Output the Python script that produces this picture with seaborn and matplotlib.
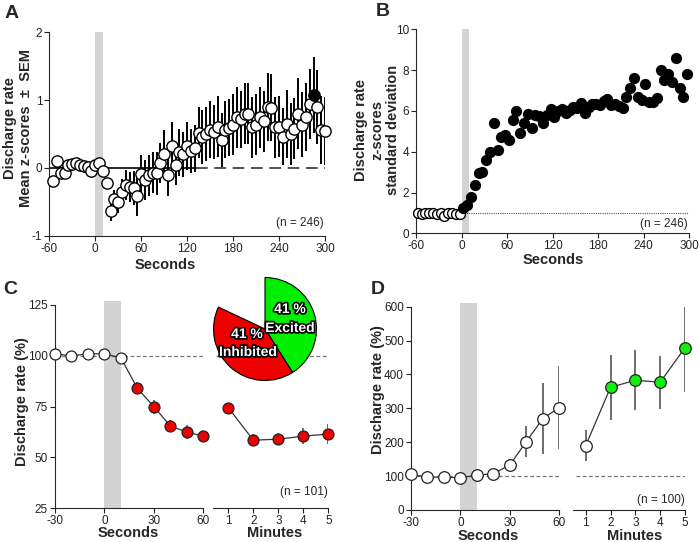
import numpy as np
import pandas as pd
import matplotlib
matplotlib.use("Agg")
import matplotlib.pyplot as plt
import matplotlib.patheffects as pe
import seaborn as sns

# ---- data ----
# A: mean z-score +- SEM, 5 s bins
a_sec = list(range(-55, 305, 5))
a_mean = [-0.19, 0.10, -0.08, -0.07, 0.04, 0.06, 0.07, 0.04, 0.03, 0.01, -0.04, 0.05,
          0.07, -0.05, -0.23, -0.63, -0.46, -0.50, -0.36, -0.25, -0.28, -0.29, -0.41, -0.09,
          -0.18, -0.11, -0.07, -0.08, 0.07, 0.21, -0.11, 0.32, 0.05, 0.23, 0.20, 0.32,
          0.25, 0.29, 0.52, 0.46, 0.50, 0.56, 0.53, 0.61, 0.41, 0.56, 0.59, 0.64,
          0.75, 0.72, 0.80, 0.80, 0.60, 0.64, 0.75, 0.69, 0.90, 0.89, 0.60, 0.61,
          0.46, 0.65, 0.50, 0.58, 0.80, 0.64, 0.75, 0.94, 1.07, 0.90, 0.56, 0.54]
a_sem = [0.04, 0.04, 0.04, 0.04, 0.04, 0.04, 0.04, 0.04, 0.04, 0.04, 0.04, 0.04,
         0.05, 0.06, 0.08, 0.15, 0.14, 0.17, 0.20, 0.22, 0.22, 0.25, 0.30, 0.28,
         0.30, 0.30, 0.30, 0.32, 0.30, 0.35, 0.30, 0.35, 0.30, 0.35, 0.33, 0.35,
         0.33, 0.35, 0.38, 0.40, 0.40, 0.42, 0.40, 0.45, 0.40, 0.42, 0.42, 0.45,
         0.45, 0.42, 0.45, 0.45, 0.45, 0.45, 0.45, 0.45, 0.50, 0.50, 0.45, 0.45,
         0.42, 0.50, 0.45, 0.45, 0.52, 0.48, 0.50, 0.52, 0.56, 0.55, 0.50, 0.50]
a_sig = [285]

# B: standard deviation of z-scores
b_sec = [x - 2.5 for x in range(-55, 305, 5)]
b_sd = [1.00, 0.97, 1.00, 0.98, 1.00, 0.95, 1.00, 0.85, 1.00, 0.98, 0.97, 0.95,
        1.23, 1.40, 1.76, 2.37, 2.94, 3.02, 3.60, 4.00, 5.39, 4.08, 4.74, 4.82,
        4.58, 5.56, 6.00, 4.93, 5.39, 5.83, 5.15, 5.78, 5.75, 5.42, 5.80, 6.10,
        5.72, 6.00, 6.11, 5.92, 6.05, 6.18, 6.13, 6.37, 5.92, 6.18, 6.34, 6.34,
        6.27, 6.50, 6.57, 6.27, 6.34, 6.26, 6.13, 6.70, 7.10, 7.63, 6.70, 6.54,
        7.30, 6.45, 6.45, 6.65, 8.00, 7.52, 7.81, 7.43, 8.58, 7.10, 6.70, 7.81]

# C: inhibited cells, % of baseline
c_sec = [-30, -20, -10, 0, 10, 20, 30, 40, 50, 60]
c_sec_val = [101, 100, 101, 101, 99, 84, 75, 65.5, 62.5, 60.5]
c_sec_err = [1.5, 1.5, 1.5, 1.5, 1.5, 3, 3.5, 3, 3.5, 3]
c_min = [1, 2, 3, 4, 5]
c_min_val = [74.5, 58.5, 59, 60.5, 61.5]
c_min_err = [2, 3, 3, 4, 5]
c_sig_sec = [20, 30, 40, 50, 60]
c_sig_min = [1, 2, 3, 4, 5]

# pie inset
pie_labels = ["Excited", "Inhibited", ""]
pie_pct = [41, 41, 18]
pie_colors = ["#00ee00", "#ee0000", "none"]

# D: excited cells, % of baseline
d_sec = [-30, -20, -10, 0, 10, 20, 30, 40, 50, 60]
d_sec_val = [105, 97, 97, 95, 103, 107, 133, 202, 270, 302]
d_sec_err = [5, 5, 5, 5, 6, 8, 12, 45, 105, 122]
d_min = [1, 2, 3, 4, 5]
d_min_val = [190, 362, 383, 377, 479]
d_min_err = [45, 95, 89, 78, 130]
d_sig_min = [2, 3, 4, 5]

sns.set_style("ticks")
plt.rcParams["font.family"] = ["Liberation Sans", "DejaVu Sans"]
plt.rcParams["axes.unicode_minus"] = False
plt.rcParams["axes.linewidth"] = 0.8
plt.rcParams["xtick.major.width"] = 0.8
plt.rcParams["ytick.major.width"] = 0.8
plt.rcParams["xtick.major.size"] = 3.5
plt.rcParams["ytick.major.size"] = 3.5
plt.rcParams["xtick.color"] = "#222222"
plt.rcParams["ytick.color"] = "#222222"

W, H = 700, 542
fig = plt.figure(figsize=(7, 5.42), dpi=100)


def box(x0, x1, ytop, ybot):
    return [x0 / W, 1 - ybot / H, (x1 - x0) / W, (ybot - ytop) / H]


def ftext(x, y, s, **kw):
    fig.text(x / W, 1 - y / H, s, ha="center", va="center", **kw)


TICK = 8.5
LAB = 10.5


def style(ax):
    sns.despine(ax=ax)
    ax.tick_params(labelsize=TICK, pad=1.5)


# ---- A ----
axA = fig.add_axes(box(49.3, 325, 32.3, 235.7))
axA.axvspan(0, 10, color="#d3d3d3", lw=0, zorder=0)
axA.plot([-60, 132], [0, 0], color="black", lw=1.2, zorder=1)
axA.plot([132, 300], [0, 0], color="#333333", lw=1.2, ls=(0, (7, 4)), zorder=1)
axA.errorbar(a_sec, a_mean, yerr=a_sem, fmt="none", ecolor="black", elinewidth=1.4, zorder=2)
dfa = pd.DataFrame({"sec": a_sec, "z": a_mean})
dfa["sig"] = dfa["sec"].isin(a_sig)
sns.scatterplot(data=dfa[~dfa.sig], x="sec", y="z", ax=axA, color="white", edgecolor="black",
                s=66, linewidth=1, zorder=3, clip_on=False)
sns.scatterplot(data=dfa[dfa.sig], x="sec", y="z", ax=axA, color="black", edgecolor="black",
                s=66, linewidth=1, zorder=4, clip_on=False)
axA.set_xlim(-60, 300)
axA.set_ylim(-1, 2)
axA.set_xticks([-60, 0, 60, 120, 180, 240, 300])
axA.set_yticks([-1, 0, 1, 2])
axA.set_xlabel("")
axA.set_ylabel("")
style(axA)
axA.text(299, -0.81, "(n = 246)", fontsize=TICK, ha="right", va="center")

# ---- B ----
axB = fig.add_axes(box(416, 689, 29.3, 233.3))
axB.axvspan(0, 10, color="#d3d3d3", lw=0, zorder=0)
axB.plot([0, 300], [1, 1], color="#555555", lw=0.8, ls=(0, (1, 1)), zorder=1)
dfb = pd.DataFrame({"sec": b_sec, "sd": b_sd})
sns.scatterplot(data=dfb[dfb.sec < 0], x="sec", y="sd", ax=axB, color="white", edgecolor="black",
                s=50, linewidth=1, zorder=3, clip_on=False)
sns.scatterplot(data=dfb[dfb.sec > 0], x="sec", y="sd", ax=axB, color="black", edgecolor="black",
                s=50, linewidth=1, zorder=3, clip_on=False)
axB.set_xlim(-60, 300)
axB.set_ylim(0, 10)
axB.set_xticks([-60, 0, 60, 120, 180, 240, 300])
axB.set_yticks([0, 2, 4, 6, 8, 10])
axB.set_xlabel("")
axB.set_ylabel("")
style(axB)
axB.text(299, 0.45, "(n = 246)", fontsize=TICK, ha="right", va="center")


def two_part(left_box, right_box, right_xlim, xsec, ysec, esec, sig_sec, xmin, ymin, emin, sig_min,
             colour, ylim, yticks, n_text, n_y, msize):
    axl = fig.add_axes(left_box)
    axr = fig.add_axes(right_box, sharey=axl)
    axl.axvspan(0, 10, ymax=1.02, color="#d3d3d3", lw=0, zorder=0, clip_on=False)
    axl.plot([-30, 60], [100, 100], color="#777777", lw=0.9, ls=(0, (3, 2)), zorder=1)
    axr.plot([right_xlim[0] + 0.1, 5], [100, 100], color="#777777", lw=0.9, ls=(0, (3, 2)), zorder=1)
    for ax, xs, ys, es, sig in [(axl, xsec, ysec, esec, sig_sec), (axr, xmin, ymin, emin, sig_min)]:
        ax.errorbar(xs, ys, yerr=es, fmt="none", ecolor="#555555", elinewidth=1.2, zorder=2)
        df = pd.DataFrame({"x": xs, "y": ys})
        df["sig"] = df["x"].isin(sig)
        sns.lineplot(data=df, x="x", y="y", ax=ax, color="#333333", lw=0.9, zorder=2)
        sns.scatterplot(data=df[~df.sig], x="x", y="y", ax=ax, color="white", edgecolor="#222222",
                        s=msize, linewidth=0.9, zorder=3, clip_on=False)
        sns.scatterplot(data=df[df.sig], x="x", y="y", ax=ax, color=colour, edgecolor="#222222",
                        s=msize, linewidth=0.9, zorder=3, clip_on=False)
        ax.set_xlabel("")
        ax.set_ylabel("")
    axl.set_xlim(-30, 60)
    axl.set_xticks([-30, 0, 30, 60])
    axl.set_ylim(*ylim)
    axl.set_yticks(yticks)
    axr.set_xlim(*right_xlim)
    axr.set_xticks([1, 2, 3, 4, 5])
    style(axl)
    style(axr)
    axr.spines["left"].set_visible(False)
    axr.tick_params(axis="y", left=False, labelleft=False)
    axr.text(5, n_y, n_text, fontsize=TICK, ha="right", va="center")
    return axl, axr


# ---- C ----
axCl, axCr = two_part(box(55, 203.3, 305, 508.3), box(213.3, 328.3, 305, 508.3), (0.4, 5),
                      c_sec, c_sec_val, c_sec_err, c_sig_sec,
                      c_min, c_min_val, c_min_err, c_sig_min,
                      "#ee0000", (25, 125), [25, 50, 75, 100, 125], "(n = 101)", 33, 62)

# pie inset
axP = fig.add_axes(box(213, 317, 277, 381))
wedges, _ = axP.pie(pie_pct, colors=pie_colors, startangle=90, counterclock=False,
                    wedgeprops=dict(edgecolor="black", linewidth=0.8))
wedges[2].set_visible(False)
axP.set_xlim(-1.01, 1.01)
axP.set_ylim(-1.01, 1.01)
axP.set_aspect("equal")
axP.axis("off")
stroke = [pe.withStroke(linewidth=2.4, foreground="black")]
for x, y, s in [(290, 309, "41 %"), (290, 328, "Excited"),
                (247, 334, "41 %"), (248, 352, "Inhibited")]:
    ftext(x, y, s, fontsize=10, fontweight="bold", color="white", path_effects=stroke, zorder=10)

# ---- D ----
axDl, axDr = two_part(box(411, 559.3, 306.7, 510), box(573.3, 685, 306.7, 510), (0.5, 5),
                      d_sec, d_sec_val, d_sec_err, [],
                      d_min, d_min_val, d_min_err, d_sig_min,
                      "#11ee11", (0, 600), [0, 100, 200, 300, 400, 500, 600], "(n = 100)", 30, 70)

# ---- labels ----
for x, y, s in [(12, 13, "A"), (383, 12, "B"), (10, 290, "C"), (378, 290, "D")]:
    ftext(x, y, s, fontsize=14, fontweight="bold")
ftext(18, 128, "Discharge rate\nMean z-scores  \u00b1  SEM", fontsize=LAB, fontweight="bold",
      rotation=90, linespacing=1.25)
ftext(377, 130, "Discharge rate\nz-scores\nstandard deviation", fontsize=LAB, fontweight="bold",
      rotation=90, linespacing=1.15)
ftext(22, 402, "Discharge rate (%)", fontsize=LAB, fontweight="bold", rotation=90)
ftext(378, 390, "Discharge rate (%)", fontsize=LAB, fontweight="bold", rotation=90)
ftext(165, 265, "Seconds", fontsize=LAB, fontweight="bold")
ftext(553, 260, "Seconds", fontsize=LAB, fontweight="bold")
ftext(128, 533, "Seconds", fontsize=LAB, fontweight="bold")
ftext(275, 533, "Minutes", fontsize=LAB, fontweight="bold")
ftext(488, 536, "Seconds", fontsize=LAB, fontweight="bold")
ftext(635, 536, "Minutes", fontsize=LAB, fontweight="bold")

fig.savefig("out.png", dpi=100)
